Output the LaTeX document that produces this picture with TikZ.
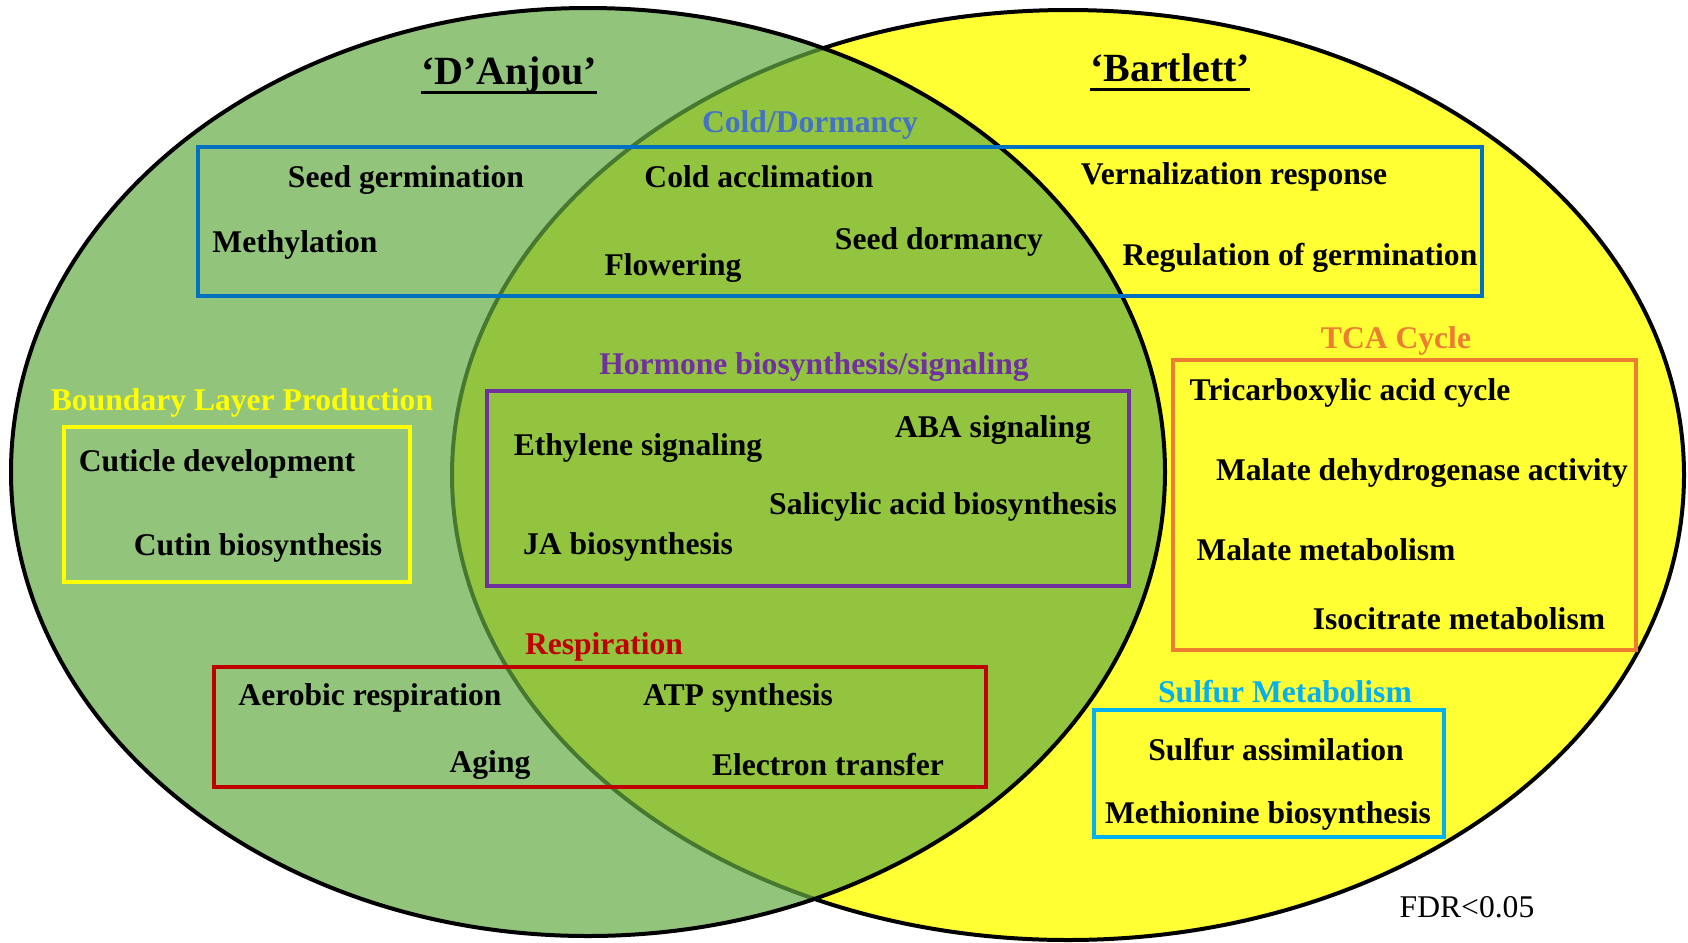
\documentclass[tikz,border=0pt]{standalone}
\usepackage{fontspec}
\setmainfont{Liberation Serif}
\usetikzlibrary{positioning}

\definecolor{pearyellow}{HTML}{FFFF33}
\definecolor{peargreen}{RGB}{101,171,69}
\definecolor{coldblue}{HTML}{0070C0}
\definecolor{coldtext}{HTML}{4472C4}
\definecolor{hormpurple}{HTML}{7030A0}
\definecolor{layeryellow}{HTML}{FFFF00}
\definecolor{respred}{HTML}{C00000}
\definecolor{tcaorange}{HTML}{ED7D31}
\definecolor{sulfcyan}{HTML}{00B0F0}

\begin{document}
\begin{tikzpicture}[x=0.5pt,y=-0.5pt,
    term/.style={font=\bfseries\fontsize{15.8}{18}\selectfont,yshift=-1.5pt},
    group/.style={font=\bfseries\fontsize{15.8}{18}\selectfont,yshift=-1.5pt},
    cultivar/.style={font=\bfseries\fontsize{20}{24}\selectfont,inner sep=0pt,yshift=-1.5pt},
    frame/.style={line width=2pt}]
  \useasboundingbox (0,0) rectangle (1688,943);

  % the two cultivars
  \draw[line width=2pt,fill=pearyellow] (1068,475) ellipse [x radius=616,y radius=465];
  \draw[line width=2pt,fill=peargreen,fill opacity=0.7] (588,472) ellipse [x radius=577,y radius=464];

  \node[cultivar] (anjou) at (509,72) {‘D’Anjou’};
  \node[cultivar] (bart) at (1170,65) {‘Bartlett’};
  \draw[line width=1.5pt] ([yshift=-4pt]anjou.base west) -- ([yshift=-4pt]anjou.base east);
  \draw[line width=1.5pt] ([yshift=-4pt]bart.base west) -- ([yshift=-4pt]bart.base east);

  % cold / dormancy
  \draw[frame,coldblue] (198,147) rectangle (1482,296);
  \node[group,text=coldtext] (cold) at (810,122) {Cold/Dormancy};
  \node[term] (sg) at (406,177) {Seed germination};
  \node[term] (me) at (295,242) {Methylation};
  \node[term] (ca) at (759,174) {Cold acclimation};
  \node[term] (fl) at (673,265) {Flowering};
  \node[term] (sd) at (939,239) {Seed dormancy};
  \node[term] (vr) at (1234,174) {Vernalization response};
  \node[term] (rg) at (1300,255) {Regulation of germination};

  % hormones
  \draw[frame,hormpurple] (487,391) rectangle (1129,586);
  \node[group,text=hormpurple] (horm) at (814,364) {Hormone biosynthesis/signaling};
  \node[term] (eth) at (638,445) {Ethylene signaling};
  \node[term] (aba) at (993,427) {ABA signaling};
  \node[term] (sal) at (943,504) {Salicylic acid biosynthesis};
  \node[term] (ja) at (628,544) {JA biosynthesis};

  % boundary layer
  \draw[frame,layeryellow] (64,427) rectangle (410,582);
  \node[group,text=layeryellow] (bound) at (242,400) {Boundary Layer Production};
  \node[term] (cd) at (217,461) {Cuticle development};
  \node[term] (cb) at (258,545) {Cutin biosynthesis};

  % respiration
  \draw[frame,respred] (214,667) rectangle (986,787);
  \node[group,text=respred] (resp) at (604,644) {Respiration};
  \node[term] (ar) at (370,695) {Aerobic respiration};
  \node[term] (ag) at (490,762) {Aging};
  \node[term] (atp) at (738,695) {ATP synthesis};
  \node[term] (et) at (828,762) {Electron transfer};

  % TCA cycle
  \draw[frame,tcaorange] (1173,360) rectangle (1636,650);
  \node[group,text=tcaorange] (tca) at (1396,338) {TCA Cycle};
  \node[term] (tac) at (1350,390) {Tricarboxylic acid cycle};
  \node[term] (mda) at (1422,470) {Malate dehydrogenase activity};
  \node[term] (mm) at (1326,547) {Malate metabolism};
  \node[term] (im) at (1459,616) {Isocitrate metabolism};

  % sulfur
  \draw[frame,sulfcyan] (1094,710) rectangle (1444,837);
  \node[group,text=sulfcyan] (sulf) at (1285,689) {Sulfur Metabolism};
  \node[term] (sa) at (1276,747) {Sulfur assimilation};
  \node[term] (mb) at (1268,813) {Methionine biosynthesis};

  \node[font=\fontsize{15.8}{18}\selectfont,yshift=-1.5pt] (fdr) at (1467,904) {FDR<0.05};
\end{tikzpicture}
\end{document}
